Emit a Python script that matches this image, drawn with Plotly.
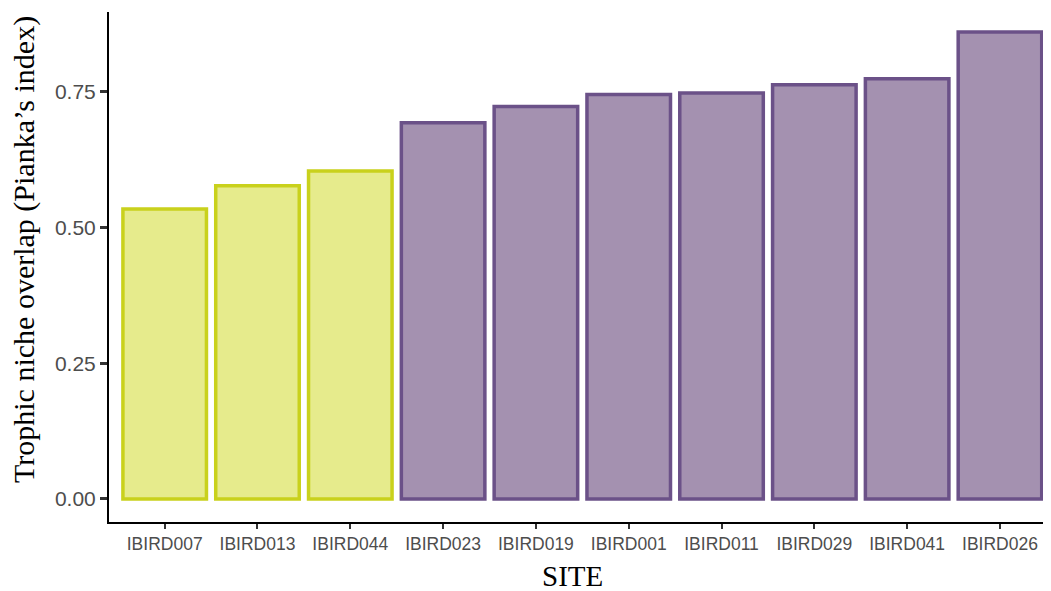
import plotly.graph_objects as go

sites = ["IBIRD007", "IBIRD013", "IBIRD044", "IBIRD023", "IBIRD019",
         "IBIRD001", "IBIRD011", "IBIRD029", "IBIRD041", "IBIRD026"]
overlap = [0.534, 0.577, 0.604, 0.693, 0.723, 0.745, 0.748, 0.763, 0.774, 0.860]
group = ["low", "low", "low", "high", "high", "high", "high", "high", "high", "high"]
x_title = "SITE"
y_title = "Trophic niche overlap (Pianka’s index)"

fill_map = {"low": "#E6EB8C", "high": "#A491B0"}
line_map = {"low": "#C9D11C", "high": "#6B5188"}

fig = go.Figure()
fig.add_trace(go.Bar(
    x=sites, y=overlap, width=0.9,
    marker=dict(color=[fill_map[g] for g in group],
                line=dict(color=[line_map[g] for g in group], width=3.5)),
    showlegend=False,
))

serif = "Liberation Serif, Times New Roman"
# page body has an 8px margin, so the figure is sized/offset to compensate
fig.update_layout(
    width=1043, height=583,
    margin=dict(l=101, r=0, t=4, b=69),
    plot_bgcolor="white", paper_bgcolor="white",
    xaxis=dict(
        range=[-0.6, 9.55], showline=True, linecolor="black", linewidth=2,
        ticks="outside", ticklen=5, tickwidth=2, tickcolor="#333333",
        tickfont=dict(family="Liberation Sans, Arial", size=17.5, color="#4D4D4D"),
        showgrid=False, zeroline=False, automargin=False,
    ),
    yaxis=dict(
        range=[-0.0424, 0.897], showline=True, linecolor="black", linewidth=2,
        tickvals=[0, 0.25, 0.5, 0.75], ticktext=["0.00", "0.25", "0.50", "0.75"],
        ticks="outside", ticklen=7, tickwidth=3, tickcolor="#333333",
        tickfont=dict(family="Liberation Sans, Arial", size=21, color="#4D4D4D"),
        showgrid=False, zeroline=False, automargin=False,
    ),
    annotations=[
        dict(text=y_title, xref="paper", yref="paper", x=0, y=0.5,
             xanchor="center", yanchor="middle", textangle=-90,
             xshift=-85, yshift=17, showarrow=False,
             font=dict(family=serif, size=30, color="black")),
        dict(text=x_title, xref="paper", yref="paper", x=0.5, y=0,
             xanchor="center", yanchor="middle",
             xshift=-8, yshift=-54, showarrow=False,
             font=dict(family=serif, size=29, color="black")),
    ],
)

fig.write_html("out.html")
